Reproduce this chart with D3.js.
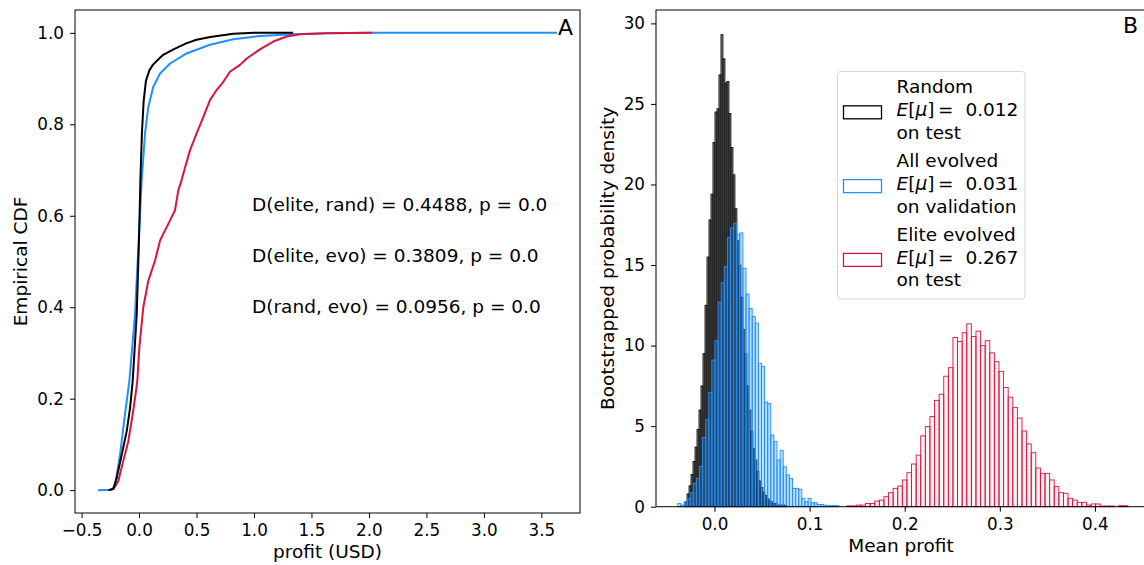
<!DOCTYPE html>
<html>
<head>
<meta charset="utf-8">
<script src="https://cdn.jsdelivr.net/npm/d3@7"></script>
<style>
  body { margin: 0; background: #fff; }
  svg { display: block; }
  text { font-family: "DejaVu Sans", sans-serif; fill: #000; }
</style>
</head>
<body>
<svg id="chart" width="1144" height="565"></svg>
<script>
/********/
/* data */
/********/

// panel A: empirical CDFs of profit (USD)
const randomCdfX = [-0.267, -0.224, -0.194, -0.15, -0.107, -0.078, -0.055, -0.02, 0.0, 0.012, 0.025, 0.04, 0.06, 0.09, 0.12, 0.16, 0.21, 0.3, 0.41, 0.5, 0.62, 0.82, 1.0, 1.34];
const randomCdfY = [0, 0.003, 0.027, 0.078, 0.129, 0.18, 0.239, 0.385, 0.55, 0.68, 0.78, 0.85, 0.895, 0.918, 0.93, 0.94, 0.952, 0.964, 0.977, 0.985, 0.991, 0.998, 1.0, 1.0];

const evolvedCdfX = [-0.357, -0.238, -0.209, -0.165, -0.122, -0.084, -0.035, 0.009, 0.023, 0.03, 0.052, 0.081, 0.124, 0.183, 0.27, 0.414, 0.617, 0.82, 1.05, 1.34, 1.63, 2.0, 3.636];
const evolvedCdfY = [0, 0.001, 0.009, 0.078, 0.166, 0.239, 0.385, 0.605, 0.678, 0.7, 0.78, 0.838, 0.882, 0.911, 0.933, 0.955, 0.974, 0.986, 0.993, 0.997, 0.999, 1.0, 1.0];

const eliteCdfX = [-0.252, -0.22, -0.18, -0.137, -0.093, -0.055, -0.026, -0.015, 0.003, 0.037, 0.081, 0.139, 0.183, 0.226, 0.27, 0.313, 0.342, 0.371, 0.385, 0.443, 0.501, 0.559, 0.617, 0.675, 0.733, 0.791, 0.878, 0.937, 1.052, 1.168, 1.284, 1.4, 1.63, 2.03];
const eliteCdfY = [0, 0.003, 0.02, 0.064, 0.107, 0.166, 0.217, 0.239, 0.312, 0.4, 0.458, 0.502, 0.546, 0.568, 0.59, 0.612, 0.656, 0.678, 0.692, 0.743, 0.78, 0.816, 0.853, 0.875, 0.893, 0.915, 0.93, 0.944, 0.964, 0.981, 0.992, 0.997, 0.999, 1.0];

const ksLabels = [
  "D(elite, rand) = 0.4488, p = 0.0",
  "D(elite, evo) = 0.3809, p = 0.0",
  "D(rand, evo) = 0.0956, p = 0.0",
];
const ksLabelY = [0.61, 0.498, 0.388];

// panel B: bootstrapped mean profit histograms (density)
const randomBinStart = -0.031;
const randomBinWidth = 0.0021;
const randomDensity = [0.3, 0.8, 1.3, 2.0, 2.8, 3.7, 4.8, 6.0, 7.5, 9.5, 12.5, 15.5, 17.8, 19.4, 22.6, 24.5, 24.7, 26.8, 29.3, 27.8, 26.3, 26.4, 24.4, 22.3, 20.6, 18.5, 16.5, 15.0, 13.0, 11.0, 9.5, 7.5, 6.0, 4.7, 3.6, 2.9, 2.2, 1.6, 1.2, 0.9, 0.7, 0.5, 0.4, 0.3, 0.2, 0.2, 0.1, 0.1, 0.1, 0.1, 0.05];

const evolvedBinStart = -0.0386;
const evolvedBinWidth = 0.00326;
const evolvedDensity = [0.2, 0.1, 0.3, 0.5, 0.87, 1.45, 1.76, 2.5, 4.3, 5.4, 7.1, 9.1, 10.3, 12.7, 13.9, 14.9, 16.7, 17.3, 17.6, 16.9, 17.0, 14.8, 13.2, 12.3, 11.8, 11.4, 8.9, 8.7, 6.5, 6.4, 4.45, 4.04, 2.9, 3.5, 2.48, 1.97, 1.76, 1.14, 1.14, 1.08, 0.52, 0.31, 0.52, 0.25, 0.25, 0.14, 0.14, 0.1, 0.06, 0.06, 0.06, 0.06];

const eliteBinStart = 0.1394;
const eliteBinWidth = 0.00484;
const eliteDensity = [0.05, 0.05, 0.1, 0.1, 0.2, 0.2, 0.35, 0.41, 0.62, 0.87, 1.14, 1.28, 1.66, 2.11, 2.65, 3.2, 4.4, 4.97, 5.6, 6.6, 6.98, 8.1, 8.63, 10.5, 10.25, 10.8, 11.35, 10.56, 10.9, 10.0, 10.3, 9.55, 9.0, 8.4, 7.4, 6.8, 6.17, 5.5, 4.7, 3.9, 3.35, 2.4, 2.07, 2.07, 1.66, 1.25, 0.87, 0.83, 0.52, 0.41, 0.27, 0.27, 0.1, 0.17, 0.17, 0.04, 0.04, 0.04, 0, 0.06, 0.06];

const legendNames = ["Random", "All evolved", "Elite evolved"];
const legendMeans = ["0.012", "0.031", "0.267"];
const legendSets = ["on test", "on validation", "on test"];

const cdfTicksX = [-0.5, 0, 0.5, 1, 1.5, 2, 2.5, 3, 3.5];
const cdfTicksY = [0, 0.2, 0.4, 0.6, 0.8, 1.0];
const histTicksX = [0, 0.1, 0.2, 0.3, 0.4];
const histTicksY = [0, 5, 10, 15, 20, 25, 30];

const colours = { random: "#000000", evolved: "#1e90ff", elite: "#dc143c" };

/**********/
/* layout */
/**********/

const tickFont = 16.8;
const labelFont = 18.5;

const svg = d3.select("#chart");
svg.append("rect").attr("width", 1144).attr("height", 565).attr("fill", "#fff");

const panelA = { left: 75, right: 580, top: 10, bottom: 513 };
const panelB = { left: 656, right: 1146, top: 10, bottom: 506.7 };

const xA = d3.scaleLinear().domain([-0.557, 3.836]).range([panelA.left, panelA.right]);
const yA = d3.scaleLinear().domain([-0.05, 1.05]).range([panelA.bottom, panelA.top]);
const xB = d3.scaleLinear().domain([-0.0615, 0.4537]).range([panelB.left, panelB.right]);
const yB = d3.scaleLinear().domain([0, 30.83]).range([panelB.bottom, panelB.top]);

function minus(s) {
  return s.replace("-", "\u2212");
}

function drawAxes(panel, x, y, ticksX, ticksY, fmtX, fmtY) {
  const gx = svg
    .append("g")
    .attr("transform", `translate(0,${panel.bottom})`)
    .call(d3.axisBottom(x).tickValues(ticksX).tickFormat(fmtX).tickSize(5).tickSizeOuter(0).tickPadding(6.5));
  const gy = svg
    .append("g")
    .attr("transform", `translate(${panel.left},0)`)
    .call(d3.axisLeft(y).tickValues(ticksY).tickFormat(fmtY).tickSize(5).tickSizeOuter(0).tickPadding(6));
  [gx, gy].forEach(g => {
    g.select(".domain").remove();
    g.selectAll(".tick line").attr("stroke", "#000").attr("stroke-width", 1);
    g.selectAll(".tick text")
      .attr("font-family", '"DejaVu Sans", sans-serif')
      .attr("font-size", tickFont)
      .attr("fill", "#000");
  });
}

function drawFrame(panel) {
  svg
    .append("rect")
    .attr("x", panel.left)
    .attr("y", panel.top)
    .attr("width", panel.right - panel.left)
    .attr("height", panel.bottom - panel.top)
    .attr("fill", "none")
    .attr("stroke", "#000")
    .attr("stroke-width", 1);
}

/***********/
/* panel A */
/***********/

function drawCdf(xs, ys, colour) {
  const pts = xs.map((v, i) => [v, ys[i]]);
  svg
    .append("path")
    .datum(pts)
    .attr("fill", "none")
    .attr("stroke", colour)
    .attr("stroke-width", 2)
    .attr("stroke-linejoin", "round")
    .attr("d", d3.line().x(d => xA(d[0])).y(d => yA(d[1])));
}

drawCdf(evolvedCdfX, evolvedCdfY, colours.evolved);
drawCdf(eliteCdfX, eliteCdfY, colours.elite);
drawCdf(randomCdfX, randomCdfY, colours.random);

svg
  .selectAll(".ks")
  .data(ksLabels)
  .enter()
  .append("text")
  .attr("class", "ks")
  .attr("x", xA(0.983))
  .attr("y", (d, i) => yA(ksLabelY[i]))
  .attr("font-size", labelFont)
  .text(d => d);

drawAxes(panelA, xA, yA, cdfTicksX, cdfTicksY, d => minus(d3.format(".1f")(d)), d => d3.format(".1f")(d));
drawFrame(panelA);

svg.append("text").attr("x", 573).attr("y", 35).attr("text-anchor", "end").attr("font-size", 22).text("A");

svg
  .append("text")
  .attr("x", (panelA.left + panelA.right) / 2)
  .attr("y", 558)
  .attr("text-anchor", "middle")
  .attr("font-size", labelFont)
  .text("profit (USD)");

svg
  .append("text")
  .attr("transform", `translate(27,${(panelA.top + panelA.bottom) / 2}) rotate(-90)`)
  .attr("text-anchor", "middle")
  .attr("font-size", labelFont)
  .text("Empirical CDF");

/***********/
/* panel B */
/***********/

function drawHist(start, width, density, colour, fillOpacity, strokeWidth) {
  svg
    .append("g")
    .selectAll("rect")
    .data(density)
    .enter()
    .append("rect")
    .attr("x", (d, i) => xB(start + i * width))
    .attr("width", (d, i) => xB(start + (i + 1) * width) - xB(start + i * width))
    .attr("y", d => yB(d))
    .attr("height", d => yB(0) - yB(d))
    .attr("fill", colour)
    .attr("fill-opacity", fillOpacity)
    .attr("stroke", colour)
    .attr("stroke-width", strokeWidth);
}

drawHist(randomBinStart, randomBinWidth, randomDensity, colours.random, 0.5, 0.8);
drawHist(evolvedBinStart, evolvedBinWidth, evolvedDensity, colours.evolved, 0.3, 0.9);
drawHist(eliteBinStart, eliteBinWidth, eliteDensity, colours.elite, 0.05, 0.9);

drawAxes(panelB, xB, yB, histTicksX, histTicksY, d => d3.format(".1f")(d), d => d3.format("d")(d));
drawFrame(panelB);

svg.append("text").attr("x", 1138).attr("y", 33).attr("text-anchor", "end").attr("font-size", 22).text("B");

svg
  .append("text")
  .attr("x", (panelB.left + panelB.right) / 2)
  .attr("y", 552)
  .attr("text-anchor", "middle")
  .attr("font-size", labelFont)
  .text("Mean profit");

svg
  .append("text")
  .attr("transform", `translate(614,${(panelB.top + panelB.bottom) / 2}) rotate(-90)`)
  .attr("text-anchor", "middle")
  .attr("font-size", labelFont)
  .text("Bootstrapped probability density");

/**********/
/* legend */
/**********/

function drawLegend() {
  const lg = svg.append("g");
  lg.append("rect")
    .attr("x", 837.5)
    .attr("y", 71.5)
    .attr("width", 187.5)
    .attr("height", 227.5)
    .attr("rx", 3)
    .attr("fill", "#fff")
    .attr("fill-opacity", 0.8)
    .attr("stroke", "#d6d6d6")
    .attr("stroke-width", 1);

  const keys = [colours.random, colours.evolved, colours.elite];
  legendNames.forEach((name, i) => {
    const cy = 112.3 + i * 73.8;
    lg.append("rect")
      .attr("x", 843.5)
      .attr("y", cy - 6.5)
      .attr("width", 38)
      .attr("height", 13)
      .attr("fill", "#fff")
      .attr("stroke", keys[i])
      .attr("stroke-width", 1.3);

    const t = lg.append("text").attr("font-size", labelFont);
    t.append("tspan").attr("x", 896.5).attr("y", cy - 19).text(name);
    const line2 = t.append("tspan").attr("x", 896.5).attr("y", cy + 4);
    line2.append("tspan").attr("font-style", "italic").text("E");
    line2.append("tspan").text("[");
    line2.append("tspan").attr("font-style", "italic").text("\u03bc");
    line2.append("tspan").text("]\u2009=\u00a0\u00a0" + legendMeans[i]);
    t.append("tspan").attr("x", 896.5).attr("y", cy + 26.5).text(legendSets[i]);
  });
}

drawLegend();
</script>
</body>
</html>
